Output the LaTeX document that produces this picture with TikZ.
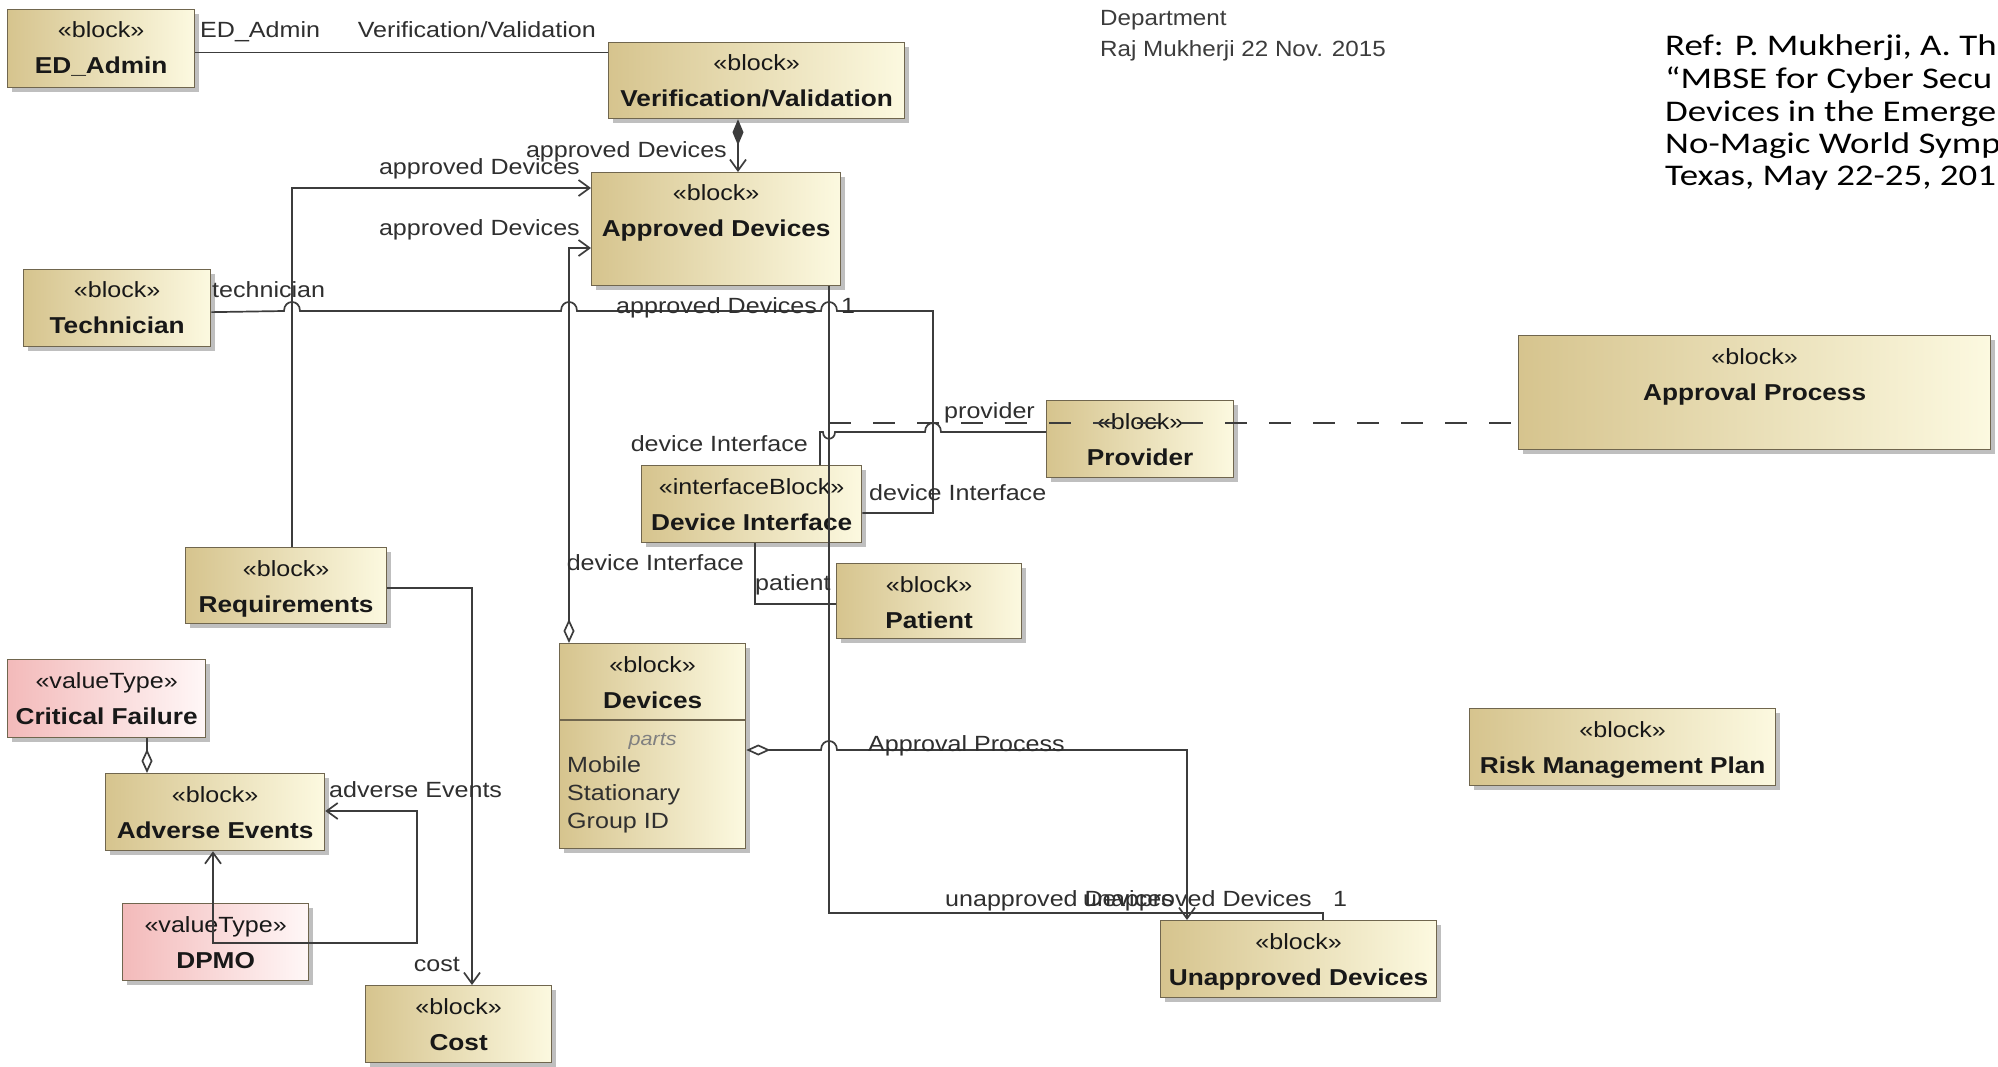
\documentclass[tikz,border=0pt]{standalone}
\usepackage{fontspec}
\usetikzlibrary{arrows.meta,calc,shadows}

\newfontfamily\dgfont[FakeStretch=1.14]{Liberation Sans}
\newfontfamily\memofont[FakeStretch=1.1]{Liberation Sans}
\newfontfamily\reffont[FakeStretch=1.23]{Carlito}

\definecolor{tanL}{RGB}{214,196,142}
\definecolor{tanR}{RGB}{252,249,224}
\definecolor{pinkL}{RGB}{243,186,186}
\definecolor{pinkR}{RGB}{255,247,247}
\definecolor{boxedge}{RGB}{112,102,78}
\definecolor{wirec}{RGB}{60,60,60}
\definecolor{ink}{RGB}{24,24,24}
\definecolor{memoc}{RGB}{60,60,60}

\tikzset{
  boxbase/.style={draw=boxedge, line width=1.3pt, inner sep=0pt, anchor=north west,
    drop shadow={shadow xshift=4pt, shadow yshift=-4pt, fill=black!55, opacity=0.45}},
  blk/.style={boxbase, left color=tanL, right color=tanR},
  valtype/.style={boxbase, left color=pinkL, right color=pinkR},
  stereo/.style={font=\dgfont\fontsize{22}{26}\selectfont, text=ink, inner sep=0pt, anchor=base},
  btitle/.style={font=\dgfont\bfseries\fontsize{23}{27}\selectfont, text=ink, inner sep=0pt, anchor=base},
  lbl/.style={font=\dgfont\fontsize{22}{26}\selectfont, text=ink!90!white, inner sep=0pt},
  memo/.style={font=\memofont\fontsize{22}{26}\selectfont, text=memoc, inner sep=0pt, anchor=base west},
  refline/.style={font=\reffont\fontsize{30}{34}\selectfont, text=black, inner sep=0pt, anchor=base west},
  conn/.style={draw=wirec, line width=1.7pt},
  barb/.style={arrows={-{Straight Barb[length=11pt,width=16pt]}}},
  aggnav/.style={arrows={{Diamond[open,length=24pt,width=11pt]}-{Straight Barb[length=11pt,width=16pt]}}},
  compnav/.style={arrows={{Diamond[length=26pt,width=11pt]}-{Straight Barb[length=11pt,width=16pt]}}},
  aggend/.style={arrows={-{Diamond[open,length=24pt,width=11pt]}}},
  navboth/.style={arrows={{Straight Barb[length=11pt,width=16pt]}-{Straight Barb[length=11pt,width=16pt]}}},
  assocblk/.style={draw=wirec, line width=1.5pt, dash pattern=on 22pt off 22pt},
}

% #1 name, #2 style, #3 left, #4 top, #5 width, #6 height, #7 stereotype, #8 title
\newcommand{\umlbox}[8]{%
  \node[#2, minimum width=#5pt, minimum height=#6pt] (#1) at (#3,#4) {};
  \node[stereo] (#1-st) at ($(#1.north)+(0,29)$) {#7};
  \node[btitle] (#1-ti) at ($(#1.north)+(0,65)$) {#8};
}

\begin{document}
\begin{tikzpicture}[x=1pt,y=-1pt]
\useasboundingbox (0,0) rectangle (1998,1067);
\fill[white] (0,0) rectangle (1998,1067);

% ---------- blocks ----------
\umlbox{ed}{blk}{7}{9}{187}{78}{«block»}{ED\_Admin}
\umlbox{vv}{blk}{608}{42}{296}{76}{«block»}{Verification/Validation}
\umlbox{ad}{blk}{591}{172}{249}{113}{«block»}{Approved Devices}
\umlbox{tech}{blk}{23}{269}{187}{77}{«block»}{Technician}
\umlbox{req}{blk}{185}{547}{201}{76}{«block»}{Requirements}
\umlbox{crit}{valtype}{7}{659}{198}{78}{«valueType»}{Critical Failure}
\umlbox{adv}{blk}{105}{773}{219}{77}{«block»}{Adverse Events}
\umlbox{dpmo}{valtype}{122}{903}{186}{77}{«valueType»}{DPMO}
\umlbox{cost}{blk}{365}{985}{186}{77}{«block»}{Cost}
\umlbox{dev}{blk}{559}{643}{186}{205}{«block»}{Devices}
\umlbox{dif}{blk}{641}{465}{220}{77}{«interfaceBlock»}{Device Interface}
\umlbox{pat}{blk}{836}{563}{185}{75}{«block»}{Patient}
\umlbox{prov}{blk}{1046}{400}{187}{77}{«block»}{Provider}
\umlbox{appr}{blk}{1518}{335}{472}{114}{«block»}{Approval Process}
\umlbox{risk}{blk}{1469}{708}{306}{77}{«block»}{Risk Management Plan}
\umlbox{unap}{blk}{1160}{920}{276}{77}{«block»}{Unapproved Devices}

% parts compartment of Devices
\draw[draw=boxedge, line width=1.3pt] ($(dev.north west)+(0,77)$) -- ($(dev.north east)+(0,77)$);
\node[font=\dgfont\itshape\fontsize{19}{22}\selectfont, text=gray, anchor=base, inner sep=0pt] (dev-parts) at ($(dev.north)+(0,102)$) {parts};
\node[lbl, anchor=base west] (dev-p1) at ($(dev.north west)+(8,129)$) {Mobile};
\node[lbl, anchor=base west] (dev-p2) at ($(dev.north west)+(8,157)$) {Stationary};
\node[lbl, anchor=base west] (dev-p3) at ($(dev.north west)+(8,185)$) {Group ID};

% ---------- routing coordinates ----------
\coordinate (edout) at ([yshift=-4pt]ed.east);
\coordinate (xcomp) at (738,0);
\coordinate (xreq) at (292,0);
\coordinate (yreq) at (0,188);
\coordinate (xdev) at (569,0);
\coordinate (ydev) at (0,248);
\coordinate (techout) at ([yshift=-4pt]tech.east);
\coordinate (ytd) at (0,513);
\coordinate (xad) at (829,0);
\coordinate (xun) at (1323,0);
\coordinate (dashstart) at (829,423);
\coordinate (yap) at (0,750);
\coordinate (xap) at (1187,0);
\coordinate (xdp) at (820,0);
\coordinate (ypv) at (0,432);
\coordinate (xdpt) at (755,0);
\coordinate (ypt) at (0,604);
\coordinate (yrc) at (0,588);
\coordinate (xcost) at (472,0);
\coordinate (xcf) at (147,0);
\coordinate (xal) at (213,0);
\coordinate (yar) at (0,811);

% ---------- connectors ----------
% ED_Admin -- Verification/Validation
\draw[conn] (edout) -- (edout -| vv.west);
\node[lbl, anchor=base west] (l-ed1) at (200,38) {ED\_Admin};
\node[lbl, anchor=base east] (l-ed2) at (596,38) {Verification/Validation};

% Verification/Validation composes Approved Devices
\draw[conn, compnav] (vv.south -| xcomp) -- (ad.north -| xcomp);
\node[lbl, anchor=base east] (l-vv) at (727,158) {approved Devices};

% Requirements -> Approved Devices
\draw[conn, barb] (req.north -| xreq) |- (ad.west |- yreq);
\node[lbl, anchor=base east] (l-rq) at (580,175) {approved Devices};

% Devices <>-> Approved Devices
\draw[conn, aggnav] (dev.north -| xdev) |- (ad.west |- ydev);
\node[lbl, anchor=base east] (l-dv) at (580,236) {approved Devices};

% Technician -- Device Interface (hops over three verticals)
\draw[conn] (techout) -- (284,311) .. controls (284,299) and (300,299) .. (300,311)
  -- (561,311) .. controls (561,299) and (577,299) .. (577,311)
  -- (821,311) .. controls (821,299) and (837,299) .. (837,311)
  -- (933,311) -- (933,513) -- (dif.east |- ytd);
\node[lbl, anchor=base west] (l-t1) at (212,298) {technician};
\node[lbl, anchor=base west] (l-t2) at (869,500) {device Interface};

% Approved Devices -- Unapproved Devices
\draw[conn] (ad.south -| xad) -- (829,913) -- (1323,913) -- (unap.north -| xun);
\node[lbl, anchor=base west] (l-a1) at (616,314) {approved Devices};
\node[lbl, anchor=base west] (l-a2) at (841,314) {1};
\node[lbl, anchor=base west] (l-u1) at (945,906) {unapproved Devices};
\node[lbl, anchor=base east] (l-u2) at (1312,906) {unapproved Devices};
\node[lbl, anchor=base west] (l-u3) at (1333,906) {1};

% association block link to Approval Process
\draw[assocblk] (dashstart) -- (appr.west |- dashstart);

% Devices <>-> Unapproved Devices (Approval Process)
\draw[conn, aggnav] (dev.east |- yap) -- (821,750) .. controls (821,738) and (837,738) .. (837,750)
  -- (1187,750) -- (unap.north -| xap);
\node[lbl, anchor=base west] (l-ap) at (868,751) {Approval Process};

% Device Interface -- Provider
\draw[conn] (dif.north -| xdp) -- (820,432) -- (823,432) .. controls (823,441) and (835,441) .. (835,432)
  -- (925,432) .. controls (925,420) and (941,420) .. (941,432) -- (prov.west |- ypv);
\node[lbl, anchor=base east] (l-p1) at (808,451) {device Interface};
\node[lbl, anchor=base west] (l-p2) at (944,418) {provider};

% Device Interface -- Patient
\draw[conn] (dif.south -| xdpt) |- (pat.west |- ypt);
\node[lbl, anchor=base east] (l-q1) at (744,570) {device Interface};
\node[lbl, anchor=base west] (l-q2) at (755,590) {patient};

% Requirements -> Cost
\draw[conn, barb] (req.east |- yrc) -| (cost.north -| xcost);
\node[lbl, anchor=base east] (l-c) at (460,971) {cost};

% Critical Failure -- Adverse Events
\draw[conn, aggend] (crit.south -| xcf) -- (adv.north -| xcf);

% Adverse Events self association
\draw[conn, navboth] (adv.south -| xal) -- (213,943) -- (417,943) -- (417,811) -- (adv.east |- yar);
\node[lbl, anchor=base west] (l-ae) at (329,797) {adverse Events};

% ---------- free text ----------
\node[memo] (dept) at (1100,26) {Department};
\node[memo] (auth) at (1100,57) {Raj Mukherji 22 Nov. 2015};

\node[refline] (ref1) at (1665,56) {Ref: P. Mukherji, A. Th};
\node[refline] (ref2) at (1665,89) {“MBSE for Cyber Secu};
\node[refline] (ref3) at (1665,122) {Devices in the Emerge};
\node[refline] (ref4) at (1665,154) {No-Magic World Symp};
\node[refline] (ref5) at (1665,186) {Texas, May 22-25, 201};
\end{tikzpicture}
\end{document}
